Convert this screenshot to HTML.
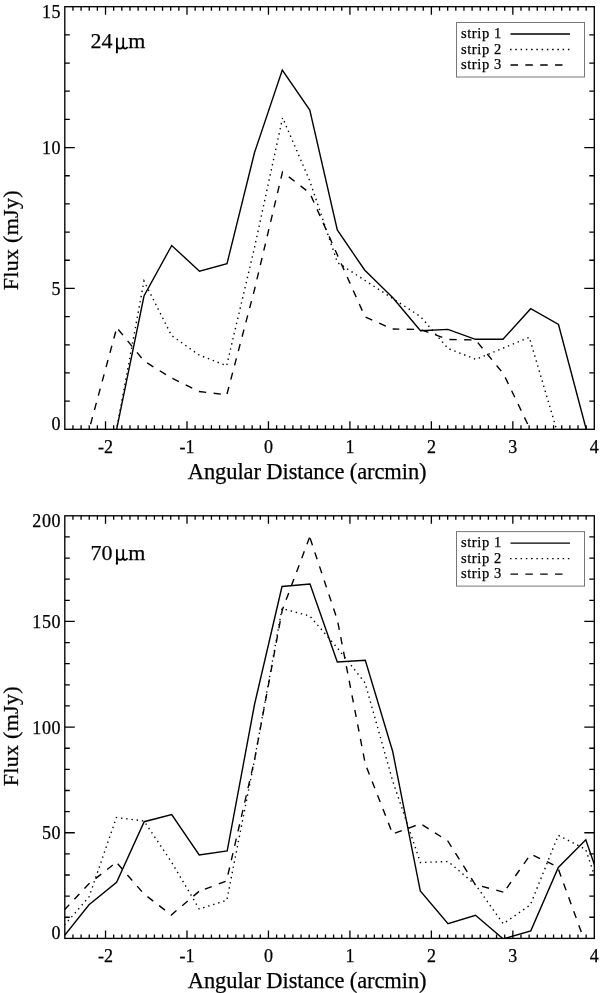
<!DOCTYPE html>
<html><head><meta charset="utf-8"><style>
html,body{margin:0;padding:0;background:#fff;}
svg{display:block;will-change:transform;}
text{font-family:"Liberation Serif",serif;fill:#000;stroke:#000;stroke-width:0.25px;}
</style></head><body>
<svg width="600" height="993" viewBox="0 0 600 993">
<rect width="600" height="993" fill="#fff"/>

<clipPath id="c0"><rect x="64.8" y="6.7" width="529.5" height="422.6"/></clipPath>
<path d="M72.95 429.3v-4M72.95 6.7v4M81.09 429.3v-4M81.09 6.7v4M89.24 429.3v-4M89.24 6.7v4M97.38 429.3v-4M97.38 6.7v4M105.53 429.3v-8M105.53 6.7v8M113.68 429.3v-4M113.68 6.7v4M121.82 429.3v-4M121.82 6.7v4M129.97 429.3v-4M129.97 6.7v4M138.12 429.3v-4M138.12 6.7v4M146.26 429.3v-4M146.26 6.7v4M154.41 429.3v-4M154.41 6.7v4M162.55 429.3v-4M162.55 6.7v4M170.70 429.3v-4M170.70 6.7v4M178.85 429.3v-4M178.85 6.7v4M186.99 429.3v-8M186.99 6.7v8M195.14 429.3v-4M195.14 6.7v4M203.28 429.3v-4M203.28 6.7v4M211.43 429.3v-4M211.43 6.7v4M219.58 429.3v-4M219.58 6.7v4M227.72 429.3v-4M227.72 6.7v4M235.87 429.3v-4M235.87 6.7v4M244.02 429.3v-4M244.02 6.7v4M252.16 429.3v-4M252.16 6.7v4M260.31 429.3v-4M260.31 6.7v4M268.45 429.3v-8M268.45 6.7v8M276.60 429.3v-4M276.60 6.7v4M284.75 429.3v-4M284.75 6.7v4M292.89 429.3v-4M292.89 6.7v4M301.04 429.3v-4M301.04 6.7v4M309.18 429.3v-4M309.18 6.7v4M317.33 429.3v-4M317.33 6.7v4M325.48 429.3v-4M325.48 6.7v4M333.62 429.3v-4M333.62 6.7v4M341.77 429.3v-4M341.77 6.7v4M349.92 429.3v-8M349.92 6.7v8M358.06 429.3v-4M358.06 6.7v4M366.21 429.3v-4M366.21 6.7v4M374.35 429.3v-4M374.35 6.7v4M382.50 429.3v-4M382.50 6.7v4M390.65 429.3v-4M390.65 6.7v4M398.79 429.3v-4M398.79 6.7v4M406.94 429.3v-4M406.94 6.7v4M415.08 429.3v-4M415.08 6.7v4M423.23 429.3v-4M423.23 6.7v4M431.38 429.3v-8M431.38 6.7v8M439.52 429.3v-4M439.52 6.7v4M447.67 429.3v-4M447.67 6.7v4M455.82 429.3v-4M455.82 6.7v4M463.96 429.3v-4M463.96 6.7v4M472.11 429.3v-4M472.11 6.7v4M480.25 429.3v-4M480.25 6.7v4M488.40 429.3v-4M488.40 6.7v4M496.55 429.3v-4M496.55 6.7v4M504.69 429.3v-4M504.69 6.7v4M512.84 429.3v-8M512.84 6.7v8M520.98 429.3v-4M520.98 6.7v4M529.13 429.3v-4M529.13 6.7v4M537.28 429.3v-4M537.28 6.7v4M545.42 429.3v-4M545.42 6.7v4M553.57 429.3v-4M553.57 6.7v4M561.72 429.3v-4M561.72 6.7v4M569.86 429.3v-4M569.86 6.7v4M578.01 429.3v-4M578.01 6.7v4M586.15 429.3v-4M586.15 6.7v4M64.8 401.13h5M594.3 401.13h-5M64.8 372.95h5M594.3 372.95h-5M64.8 344.78h5M594.3 344.78h-5M64.8 316.61h5M594.3 316.61h-5M64.8 288.43h10M594.3 288.43h-10M64.8 260.26h5M594.3 260.26h-5M64.8 232.09h5M594.3 232.09h-5M64.8 203.91h5M594.3 203.91h-5M64.8 175.74h5M594.3 175.74h-5M64.8 147.57h10M594.3 147.57h-10M64.8 119.39h5M594.3 119.39h-5M64.8 91.22h5M594.3 91.22h-5M64.8 63.05h5M594.3 63.05h-5M64.8 34.87h5M594.3 34.87h-5" stroke="#000" stroke-width="1.3" fill="none"/>
<rect x="64.8" y="6.7" width="529.5" height="422.6" fill="none" stroke="#000" stroke-width="1.35"/>
<text x="61.1" y="429.8" font-size="18" letter-spacing="0.6" text-anchor="end">0</text>
<text x="61.1" y="295.0" font-size="18" letter-spacing="0.6" text-anchor="end">5</text>
<text x="61.1" y="154.2" font-size="18" letter-spacing="0.6" text-anchor="end">10</text>
<text x="61.1" y="17.5" font-size="18" letter-spacing="0.6" text-anchor="end">15</text>
<text x="105.5" y="452.7" font-size="18" text-anchor="middle">-2</text>
<text x="187.0" y="452.7" font-size="18" text-anchor="middle">-1</text>
<text x="268.5" y="452.7" font-size="18" text-anchor="middle">0</text>
<text x="349.9" y="452.7" font-size="18" text-anchor="middle">1</text>
<text x="431.4" y="452.7" font-size="18" text-anchor="middle">2</text>
<text x="512.8" y="452.7" font-size="18" text-anchor="middle">3</text>
<text x="594.3" y="452.7" font-size="18" text-anchor="middle">4</text>
<text x="187.8" y="479.2" font-size="22.5" letter-spacing="-0.1">Angular Distance (arcmin)</text>
<text transform="translate(18.3 290.3) rotate(-90)" x="0" y="0" font-size="22" letter-spacing="0.3">Flux (mJy)</text>
<text x="90.5" y="48.3" font-size="22">24</text>
<text x="128.2" y="48.3" font-size="22">m</text>
<g transform="translate(0 0.0)" fill="none" stroke="#000" stroke-width="1.75"><path d="M116.9 37.8V51.5M116.9 45.3C117.2 48 118.6 48.6 120 48.6C121.6 48.6 123 47.6 123.2 45.3M123.2 37.8V46.2C123.3 47.9 124.2 48.5 125.2 48.5C126.2 48.5 127 47.8 127.5 46.8"/><ellipse cx="116.9" cy="52" rx="1.1" ry="1.4" fill="#000" stroke="none"/></g>
<rect x="456.5" y="22.5" width="128" height="54.5" fill="none" stroke="#777" stroke-width="1"/>
<text x="461" y="38.0" font-size="14.5" letter-spacing="0.6">strip 1</text>
<text x="461" y="53.5" font-size="14.5" letter-spacing="0.6">strip 2</text>
<text x="461" y="69.0" font-size="14.5" letter-spacing="0.6">strip 3</text>
<path d="M510.5 34.0H570" stroke="#000" stroke-width="1.4"/>
<path d="M510.05 49.5H569.5" stroke="#000" stroke-width="1.4" stroke-dasharray="1.5 3.76"/>
<path d="M510.5 65.0H562.5" stroke="#000" stroke-width="1.4" stroke-dasharray="7.5 7.35"/>
<g clip-path="url(#c0)" fill="none" stroke="#000" stroke-width="1.4" stroke-linejoin="miter">
<polyline points="116.2,431.5 144.0,296.0 171.7,245.5 199.5,271.2 227.0,263.7 254.6,152.3 282.3,70.0 309.8,110.0 337.3,230.0 364.6,270.0 393.1,298.0 420.5,330.8 447.9,329.4 475.4,339.3 503.0,339.3 530.7,308.7 558.5,324.5 586.4,430.0"/>
<polyline points="116.2,431.5 144.0,281.0 171.5,335.5 199.1,355.0 226.6,365.8 254.4,248.0 282.6,117.7 309.8,181.0 337.4,262.5 420.4,316.5 448.1,348.5 475.7,359.3 503.4,348.0 529.3,337.3 558.7,436.7" stroke-dasharray="1.4 3.85"/>
<polyline points="88.6,431.5 116.8,327.6" stroke-dasharray="7.3 7.50" stroke-dashoffset="7.27"/>
<polyline points="116.8,327.6 144.0,361.0 171.5,378.0 199.1,391.5 226.8,394.8" stroke-dasharray="7.3 7.50" stroke-dashoffset="12.42"/>
<polyline points="226.8,394.8 254.4,290.0 282.5,172.0 309.8,193.0 337.4,255.0 365.1,317.0 392.7,329.0" stroke-dasharray="7.3 7.50" stroke-dashoffset="13.97"/>
<polyline points="392.7,329.0 420.4,329.5 448.1,339.5 475.7,340.0 503.6,374.0 531.0,431.0" stroke-dasharray="7.3 7.50" stroke-dashoffset="0.71"/>
</g>
<clipPath id="c1"><rect x="64.8" y="515.8" width="529.5" height="422.6"/></clipPath>
<path d="M72.95 938.4v-4M72.95 515.8v4M81.09 938.4v-4M81.09 515.8v4M89.24 938.4v-4M89.24 515.8v4M97.38 938.4v-4M97.38 515.8v4M105.53 938.4v-8M105.53 515.8v8M113.68 938.4v-4M113.68 515.8v4M121.82 938.4v-4M121.82 515.8v4M129.97 938.4v-4M129.97 515.8v4M138.12 938.4v-4M138.12 515.8v4M146.26 938.4v-4M146.26 515.8v4M154.41 938.4v-4M154.41 515.8v4M162.55 938.4v-4M162.55 515.8v4M170.70 938.4v-4M170.70 515.8v4M178.85 938.4v-4M178.85 515.8v4M186.99 938.4v-8M186.99 515.8v8M195.14 938.4v-4M195.14 515.8v4M203.28 938.4v-4M203.28 515.8v4M211.43 938.4v-4M211.43 515.8v4M219.58 938.4v-4M219.58 515.8v4M227.72 938.4v-4M227.72 515.8v4M235.87 938.4v-4M235.87 515.8v4M244.02 938.4v-4M244.02 515.8v4M252.16 938.4v-4M252.16 515.8v4M260.31 938.4v-4M260.31 515.8v4M268.45 938.4v-8M268.45 515.8v8M276.60 938.4v-4M276.60 515.8v4M284.75 938.4v-4M284.75 515.8v4M292.89 938.4v-4M292.89 515.8v4M301.04 938.4v-4M301.04 515.8v4M309.18 938.4v-4M309.18 515.8v4M317.33 938.4v-4M317.33 515.8v4M325.48 938.4v-4M325.48 515.8v4M333.62 938.4v-4M333.62 515.8v4M341.77 938.4v-4M341.77 515.8v4M349.92 938.4v-8M349.92 515.8v8M358.06 938.4v-4M358.06 515.8v4M366.21 938.4v-4M366.21 515.8v4M374.35 938.4v-4M374.35 515.8v4M382.50 938.4v-4M382.50 515.8v4M390.65 938.4v-4M390.65 515.8v4M398.79 938.4v-4M398.79 515.8v4M406.94 938.4v-4M406.94 515.8v4M415.08 938.4v-4M415.08 515.8v4M423.23 938.4v-4M423.23 515.8v4M431.38 938.4v-8M431.38 515.8v8M439.52 938.4v-4M439.52 515.8v4M447.67 938.4v-4M447.67 515.8v4M455.82 938.4v-4M455.82 515.8v4M463.96 938.4v-4M463.96 515.8v4M472.11 938.4v-4M472.11 515.8v4M480.25 938.4v-4M480.25 515.8v4M488.40 938.4v-4M488.40 515.8v4M496.55 938.4v-4M496.55 515.8v4M504.69 938.4v-4M504.69 515.8v4M512.84 938.4v-8M512.84 515.8v8M520.98 938.4v-4M520.98 515.8v4M529.13 938.4v-4M529.13 515.8v4M537.28 938.4v-4M537.28 515.8v4M545.42 938.4v-4M545.42 515.8v4M553.57 938.4v-4M553.57 515.8v4M561.72 938.4v-4M561.72 515.8v4M569.86 938.4v-4M569.86 515.8v4M578.01 938.4v-4M578.01 515.8v4M586.15 938.4v-4M586.15 515.8v4M64.8 917.27h5M594.3 917.27h-5M64.8 896.14h5M594.3 896.14h-5M64.8 875.01h5M594.3 875.01h-5M64.8 853.88h5M594.3 853.88h-5M64.8 832.75h10M594.3 832.75h-10M64.8 811.62h5M594.3 811.62h-5M64.8 790.49h5M594.3 790.49h-5M64.8 769.36h5M594.3 769.36h-5M64.8 748.23h5M594.3 748.23h-5M64.8 727.10h10M594.3 727.10h-10M64.8 705.97h5M594.3 705.97h-5M64.8 684.84h5M594.3 684.84h-5M64.8 663.71h5M594.3 663.71h-5M64.8 642.58h5M594.3 642.58h-5M64.8 621.45h10M594.3 621.45h-10M64.8 600.32h5M594.3 600.32h-5M64.8 579.19h5M594.3 579.19h-5M64.8 558.06h5M594.3 558.06h-5M64.8 536.93h5M594.3 536.93h-5" stroke="#000" stroke-width="1.3" fill="none"/>
<rect x="64.8" y="515.8" width="529.5" height="422.6" fill="none" stroke="#000" stroke-width="1.35"/>
<text x="61.1" y="938.9" font-size="18" letter-spacing="0.6" text-anchor="end">0</text>
<text x="61.1" y="839.4" font-size="18" letter-spacing="0.6" text-anchor="end">50</text>
<text x="61.1" y="733.7" font-size="18" letter-spacing="0.6" text-anchor="end">100</text>
<text x="61.1" y="628.1" font-size="18" letter-spacing="0.6" text-anchor="end">150</text>
<text x="61.1" y="526.6" font-size="18" letter-spacing="0.6" text-anchor="end">200</text>
<text x="105.5" y="961.8" font-size="18" text-anchor="middle">-2</text>
<text x="187.0" y="961.8" font-size="18" text-anchor="middle">-1</text>
<text x="268.5" y="961.8" font-size="18" text-anchor="middle">0</text>
<text x="349.9" y="961.8" font-size="18" text-anchor="middle">1</text>
<text x="431.4" y="961.8" font-size="18" text-anchor="middle">2</text>
<text x="512.8" y="961.8" font-size="18" text-anchor="middle">3</text>
<text x="594.3" y="961.8" font-size="18" text-anchor="middle">4</text>
<text x="187.8" y="988.3" font-size="22.5" letter-spacing="-0.1">Angular Distance (arcmin)</text>
<text transform="translate(18.3 786.3) rotate(-90)" x="0" y="0" font-size="22" letter-spacing="0.3">Flux (mJy)</text>
<text x="90.5" y="559.7" font-size="22">70</text>
<text x="128.2" y="559.7" font-size="22">m</text>
<g transform="translate(0 511.4)" fill="none" stroke="#000" stroke-width="1.75"><path d="M116.9 37.8V51.5M116.9 45.3C117.2 48 118.6 48.6 120 48.6C121.6 48.6 123 47.6 123.2 45.3M123.2 37.8V46.2C123.3 47.9 124.2 48.5 125.2 48.5C126.2 48.5 127 47.8 127.5 46.8"/><ellipse cx="116.9" cy="52" rx="1.1" ry="1.4" fill="#000" stroke="none"/></g>
<rect x="456.5" y="531.6" width="128" height="54.5" fill="none" stroke="#777" stroke-width="1"/>
<text x="461" y="547.1" font-size="14.5" letter-spacing="0.6">strip 1</text>
<text x="461" y="562.6" font-size="14.5" letter-spacing="0.6">strip 2</text>
<text x="461" y="578.1" font-size="14.5" letter-spacing="0.6">strip 3</text>
<path d="M510.5 543.1H570" stroke="#000" stroke-width="1.4"/>
<path d="M510.05 558.6H569.5" stroke="#000" stroke-width="1.4" stroke-dasharray="1.5 3.76"/>
<path d="M510.5 574.1H562.5" stroke="#000" stroke-width="1.4" stroke-dasharray="7.5 7.35"/>
<g clip-path="url(#c1)" fill="none" stroke="#000" stroke-width="1.4" stroke-linejoin="miter">
<polyline points="61.0,940.0 89.0,904.7 116.6,882.3 144.2,821.7 171.7,814.5 199.2,855.0 227.2,851.0 254.5,704.5 282.0,586.5 310.0,584.0 337.3,662.0 365.3,660.3 392.7,751.5 420.3,891.0 448.0,923.7 475.5,915.3 503.3,939.0 530.8,930.8 558.3,867.5 585.8,839.8 613.5,920.0"/>
<polyline points="61.0,929.0 89.0,897.0 116.4,817.5 144.0,821.0 171.5,862.0 199.2,909.0 226.8,900.3 254.4,760.5 282.0,608.5 309.8,616.0 337.4,648.0 365.1,683.0 392.7,781.0 420.4,862.5 448.2,861.5 475.7,885.0 503.2,923.8 530.3,905.0 558.3,835.3 585.6,849.3 613.5,932.0" stroke-dasharray="1.4 3.85"/>
<polyline points="61.0,913.5 88.7,884.0 116.4,862.3" stroke-dasharray="7.3 7.50" stroke-dashoffset="10.09"/>
<polyline points="116.4,862.3 144.0,894.0 171.3,915.0 199.1,891.3" stroke-dasharray="7.3 7.50" stroke-dashoffset="12.83"/>
<polyline points="199.1,891.3 226.5,881.0 254.4,760.5 282.3,610.0 309.7,537.0" stroke-dasharray="7.3 7.50" stroke-dashoffset="8.60"/>
<polyline points="309.7,537.0 337.4,620.0 365.3,764.0 392.7,834.0" stroke-dasharray="7.3 7.50" stroke-dashoffset="13.42"/>
<polyline points="392.7,834.0 420.6,823.7 447.8,841.0 475.2,884.5" stroke-dasharray="7.3 7.50" stroke-dashoffset="12.44"/>
<polyline points="475.2,884.5 503.8,892.2" stroke-dasharray="7.3 7.50" stroke-dashoffset="7.80"/>
<polyline points="503.8,892.2 530.8,854.2 557.5,866.7 586.0,945.0" stroke-dasharray="7.3 7.50" stroke-dashoffset="9.69"/>
</g>
</svg>
</body></html>
